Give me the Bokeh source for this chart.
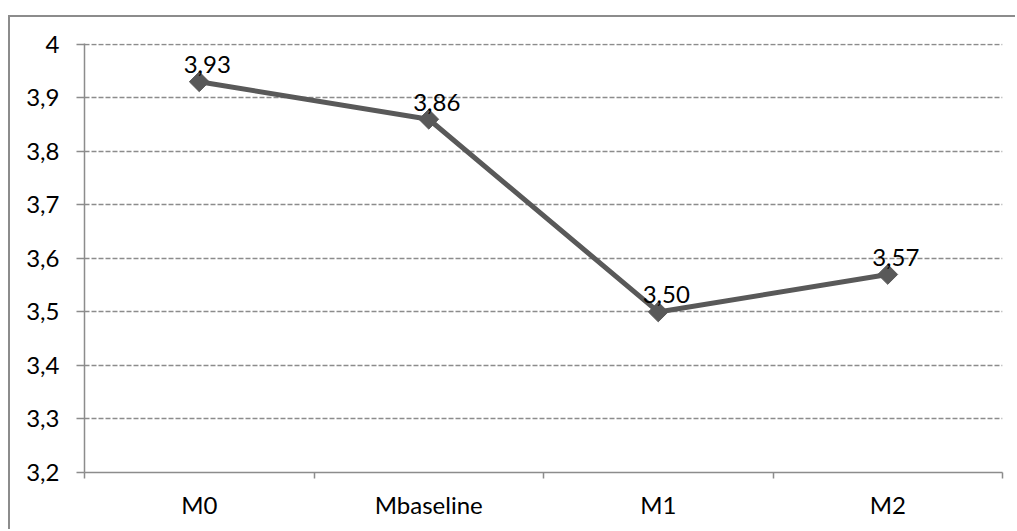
import math
from bokeh.plotting import figure
from bokeh.models import ColumnDataSource, FixedTicker, CustomJSTickFormatter, Range1d
from bokeh.core.properties import value
from bokeh.embed import file_html
from bokeh.resources import INLINE

categories = ["M0", "Mbaseline", "M1", "M2"]
values = [3.93, 3.86, 3.50, 3.57]
y_ticks = [3.2, 3.3, 3.4, 3.5, 3.6, 3.7, 3.8, 3.9, 4.0]

FONT = "Lato"
FS = "24px"
GRAY = "#8c8c8c"
LINE = "#595959"

xs = [i + 0.5 for i in range(len(categories))]
labels = [f"{v:.2f}".replace(".", ",") for v in values]
src = ColumnDataSource(dict(x=xs, y=values, label=labels))

p = figure(width=1007, height=514, output_backend="svg", toolbar_location=None,
           x_range=Range1d(0, len(categories)), y_range=Range1d(3.2, 4.0015),
           min_border_left=74, min_border_right=15, min_border_top=26, min_border_bottom=59)
p.styles = {"margin-left": "8px", "margin-top": "15px",
            "border-left": "2px solid #8c8c8c", "border-top": "2px solid #8c8c8c"}
p.outline_line_color = None
p.background_fill_color = "white"
p.border_fill_color = "white"

# y axis
p.yaxis.ticker = FixedTicker(ticks=y_ticks, minor_ticks=[])
p.yaxis.formatter = CustomJSTickFormatter(code="""
    const s = (Math.round(tick * 10) / 10).toString();
    return s.replace('.', ',');
""")
p.yaxis.axis_line_color = GRAY
p.yaxis.axis_line_width = 1.5
p.yaxis.major_tick_line_color = GRAY
p.yaxis.major_tick_line_width = 1.5
p.yaxis.major_tick_out = 8
p.yaxis.major_tick_in = 0
p.yaxis.major_label_standoff = 17
p.yaxis.major_label_text_font = FONT
p.yaxis.major_label_text_font_size = FS
p.yaxis.major_label_text_color = "black"

# x axis
p.xaxis.ticker = FixedTicker(ticks=xs, minor_ticks=list(range(len(categories) + 1)))
p.xaxis.formatter = CustomJSTickFormatter(args=dict(cats=categories),
                                          code="return cats[Math.floor(tick)];")
p.xaxis.axis_line_color = GRAY
p.xaxis.axis_line_width = 1.5
p.xaxis.major_tick_out = 0
p.xaxis.major_tick_in = 0
p.xaxis.minor_tick_line_color = GRAY
p.xaxis.minor_tick_line_width = 1.5
p.xaxis.minor_tick_out = 6
p.xaxis.minor_tick_in = 0
p.xaxis.major_label_standoff = 11
p.xaxis.major_label_text_font = FONT
p.xaxis.major_label_text_font_size = FS
p.xaxis.major_label_text_color = "black"

p.xgrid.grid_line_color = None
p.ygrid.ticker = FixedTicker(ticks=y_ticks[1:])
p.ygrid.grid_line_color = GRAY
p.ygrid.grid_line_width = 1.5
p.ygrid.grid_line_dash = "5 2"

p.line("x", "y", source=src, line_color=LINE, line_width=5)
p.scatter("x", "y", source=src, marker="square", angle=math.pi / 4, size=14,
          fill_color=LINE, line_color=LINE)
p.text("x", "y", text="label", source=src, x_offset=8, y_offset=-17,
       text_align="center", text_baseline="middle",
       text_font=value(FONT), text_font_size=FS, text_color="black")

open("out.html", "w").write(file_html(p, INLINE))
